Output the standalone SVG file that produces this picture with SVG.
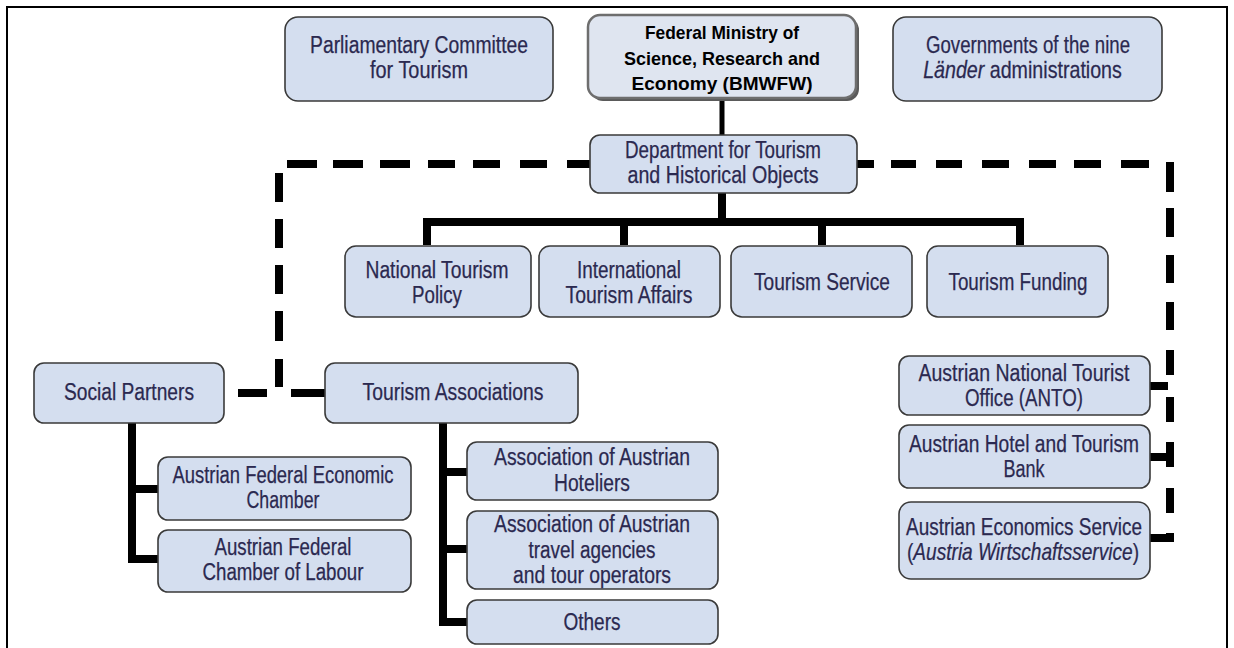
<svg xmlns="http://www.w3.org/2000/svg" width="1234" height="648" viewBox="0 0 1234 648">
<style>
.box{fill:#d4deef;stroke:#3a3a3a;stroke-width:1.6}
.mbox{fill:#dfe5f0;stroke:#6e6e6e;stroke-width:2.5}
.t{font-family:"Liberation Sans Narrow","Liberation Sans",Arial,sans-serif;font-size:23px;fill:#2b2950;text-anchor:middle;stroke:#2b2950;stroke-width:0.25}
.i{font-style:italic}
.b{font-family:"Liberation Sans",Arial,sans-serif;font-size:18.5px;font-weight:bold;fill:#000;text-anchor:middle}
.solid{stroke:#000;stroke-width:8;fill:none;stroke-linejoin:miter;stroke-linecap:butt}
.dash{stroke:#000;stroke-width:8;fill:none;stroke-linecap:butt}
</style>
<rect x="7" y="7" width="1220" height="660" fill="#fff" stroke="#000" stroke-width="2"/>

<g id="connectors">
  <line x1="722" y1="98" x2="722" y2="135" stroke="#000" stroke-width="5"/>
  <path class="solid" d="M722 193 V222 M427 245 V222 H1020 V245 M624 222 V245 M822 222 V245"/>
  <path class="solid" d="M132 423 V559 H158 M132 489 H158"/>
  <path class="solid" d="M443 423 V622 H467 M443 472 H467 M443 549 H467"/>
  <path class="solid" d="M1150 386 H1168 M1150 457 H1170 M1150 538 H1174"/>
  <g class="dash">
    <path d="M287 164 H317 M333 164 H363 M380 164 H410 M428 164 H455 M473 164 H500 M520 164 H547 M567 164 H590"/>
    <path d="M279 173 V202 M279 219 V248 M279 265 V294 M279 311 V341 M279 359 V387"/>
    <path d="M238 393 H267 M291 393 H325"/>
    <path d="M857 164 H874 M891 164 H916 M936 164 H962 M982 164 H1009 M1029 164 H1056 M1074 164 H1101 M1121 164 H1149"/>
    <path d="M1170 162 V192 M1170 208 V237 M1170 255 V283 M1170 302 V330 M1170 350 V375 M1170 397 V422 M1170 442 V467 M1170 488 V513 M1170 533 V542"/>
  </g>
</g>

<g id="parliament">
  <rect class="box" x="285" y="17" width="268" height="84" rx="13"/>
  <text class="t" x="419" y="53" textLength="218" lengthAdjust="spacingAndGlyphs">Parliamentary Committee</text>
  <text class="t" x="419" y="78" textLength="98" lengthAdjust="spacingAndGlyphs">for Tourism</text>
</g>

<g id="ministry">
  <rect x="591" y="18" width="268" height="83" rx="12" fill="#5a5a5a"/>
  <rect class="mbox" x="588" y="15" width="268" height="83" rx="12"/>
  <text class="b" x="722" y="39" textLength="154" lengthAdjust="spacingAndGlyphs">Federal Ministry of</text>
  <text class="b" x="722" y="65" textLength="196" lengthAdjust="spacingAndGlyphs">Science, Research and</text>
  <text class="b" x="722" y="90" textLength="181" lengthAdjust="spacingAndGlyphs">Economy (BMWFW)</text>
</g>

<g id="governments">
  <rect class="box" x="893" y="17" width="269" height="84" rx="13"/>
  <text class="t" x="1028" y="53" textLength="204" lengthAdjust="spacingAndGlyphs">Governments of the nine</text>
  <text class="t" transform="translate(1022.5,78) scale(0.855,1)"><tspan class="i">Länder</tspan> administrations</text>
</g>

<g id="department">
  <rect class="box" x="590" y="135" width="267" height="58" rx="10"/>
  <text class="t" x="723" y="158" textLength="196" lengthAdjust="spacingAndGlyphs">Department for Tourism</text>
  <text class="t" x="723" y="183" textLength="191" lengthAdjust="spacingAndGlyphs">and Historical Objects</text>
</g>

<g id="national-policy">
  <rect class="box" x="345" y="246" width="186" height="71" rx="11"/>
  <text class="t" x="437" y="278" textLength="143" lengthAdjust="spacingAndGlyphs">National Tourism</text>
  <text class="t" x="437" y="303" textLength="50" lengthAdjust="spacingAndGlyphs">Policy</text>
</g>

<g id="international-affairs">
  <rect class="box" x="539" y="246" width="181" height="71" rx="11"/>
  <text class="t" x="629" y="278" textLength="104" lengthAdjust="spacingAndGlyphs">International</text>
  <text class="t" x="629" y="303" textLength="127" lengthAdjust="spacingAndGlyphs">Tourism Affairs</text>
</g>

<g id="tourism-service">
  <rect class="box" x="731" y="246" width="181" height="71" rx="11"/>
  <text class="t" x="822" y="290" textLength="136" lengthAdjust="spacingAndGlyphs">Tourism Service</text>
</g>

<g id="tourism-funding">
  <rect class="box" x="927" y="246" width="181" height="71" rx="11"/>
  <text class="t" x="1018" y="290" textLength="139" lengthAdjust="spacingAndGlyphs">Tourism Funding</text>
</g>

<g id="social-partners">
  <rect class="box" x="34" y="363" width="190" height="60" rx="10"/>
  <text class="t" x="129" y="400" textLength="130" lengthAdjust="spacingAndGlyphs">Social Partners</text>
</g>

<g id="tourism-associations">
  <rect class="box" x="325" y="363" width="253" height="60" rx="10"/>
  <text class="t" x="453" y="400" textLength="181" lengthAdjust="spacingAndGlyphs">Tourism Associations</text>
</g>

<g id="economic-chamber">
  <rect class="box" x="158" y="457" width="253" height="63" rx="10"/>
  <text class="t" x="283" y="483" textLength="221" lengthAdjust="spacingAndGlyphs">Austrian Federal Economic</text>
  <text class="t" x="283" y="508" textLength="73" lengthAdjust="spacingAndGlyphs">Chamber</text>
</g>

<g id="chamber-labour">
  <rect class="box" x="158" y="530" width="253" height="62" rx="10"/>
  <text class="t" x="283" y="555" textLength="137" lengthAdjust="spacingAndGlyphs">Austrian Federal</text>
  <text class="t" x="283" y="580" textLength="161" lengthAdjust="spacingAndGlyphs">Chamber of Labour</text>
</g>

<g id="hoteliers">
  <rect class="box" x="467" y="442" width="251" height="58" rx="10"/>
  <text class="t" x="592" y="465" textLength="196" lengthAdjust="spacingAndGlyphs">Association of Austrian</text>
  <text class="t" x="592" y="491" textLength="76" lengthAdjust="spacingAndGlyphs">Hoteliers</text>
</g>

<g id="travel-agencies">
  <rect class="box" x="467" y="511" width="251" height="78" rx="10"/>
  <text class="t" x="592" y="532" textLength="196" lengthAdjust="spacingAndGlyphs">Association of Austrian</text>
  <text class="t" x="592" y="558" textLength="127" lengthAdjust="spacingAndGlyphs">travel agencies</text>
  <text class="t" x="592" y="583" textLength="158" lengthAdjust="spacingAndGlyphs">and tour operators</text>
</g>

<g id="others">
  <rect class="box" x="467" y="600" width="251" height="44" rx="10"/>
  <text class="t" x="592" y="630" textLength="57" lengthAdjust="spacingAndGlyphs">Others</text>
</g>

<g id="anto">
  <rect class="box" x="899" y="356" width="251" height="59" rx="10"/>
  <text class="t" x="1024" y="381" textLength="211" lengthAdjust="spacingAndGlyphs">Austrian National Tourist</text>
  <text class="t" x="1024" y="406" textLength="118" lengthAdjust="spacingAndGlyphs">Office (ANTO)</text>
</g>

<g id="hotel-bank">
  <rect class="box" x="899" y="425" width="251" height="63" rx="10"/>
  <text class="t" x="1024" y="452" textLength="230" lengthAdjust="spacingAndGlyphs">Austrian Hotel and Tourism</text>
  <text class="t" x="1024" y="477" textLength="41" lengthAdjust="spacingAndGlyphs">Bank</text>
</g>

<g id="economics-service">
  <rect class="box" x="899" y="502" width="251" height="77" rx="12"/>
  <text class="t" x="1024" y="535" textLength="236" lengthAdjust="spacingAndGlyphs">Austrian Economics Service</text>
  <text class="t" transform="translate(1023,560) scale(0.83,1)">(<tspan class="i">Austria Wirtschaftsservice</tspan>)</text>
</g>
</svg>
